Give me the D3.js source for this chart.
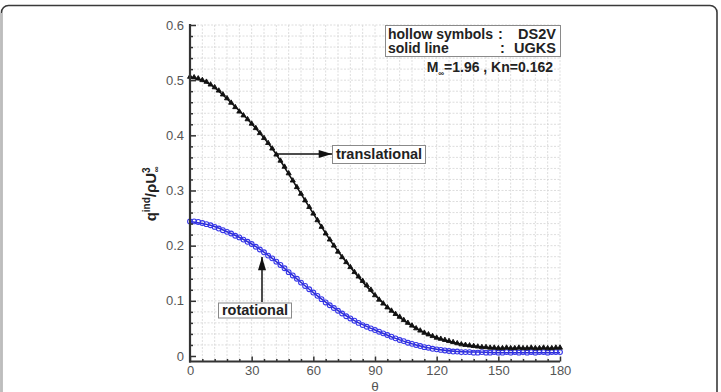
<!DOCTYPE html>
<html>
<head>
<meta charset="utf-8">
<script src="https://cdn.jsdelivr.net/npm/d3@7"></script>
<style>
  body { margin: 0; background: #fff; }
  svg text { font-family: "Liberation Sans", Arial, sans-serif; }
</style>
</head>
<body>
<svg id="chart" width="721" height="392"></svg>
<script>
// DS2V symbols, every 2 degrees
var dsTheta = d3.range(0, 181, 2);
var dsTrans = [0.506, 0.505, 0.503, 0.500, 0.497, 0.492, 0.487, 0.481, 0.474, 0.467,
  0.459, 0.451, 0.443, 0.436, 0.429, 0.421, 0.413, 0.404, 0.395, 0.386,
  0.376, 0.365, 0.354, 0.343, 0.331, 0.318, 0.306, 0.294, 0.282, 0.270,
  0.258, 0.246, 0.234, 0.222, 0.211, 0.200, 0.189, 0.179, 0.170, 0.161,
  0.152, 0.144, 0.136, 0.128, 0.120, 0.110, 0.102, 0.095, 0.088, 0.082,
  0.076, 0.071, 0.065, 0.060, 0.055, 0.050, 0.046, 0.042, 0.039, 0.036,
  0.033, 0.031, 0.029, 0.027, 0.025, 0.023, 0.021, 0.020, 0.019, 0.018,
  0.017, 0.016, 0.016, 0.015, 0.015, 0.014, 0.014, 0.015, 0.014, 0.014,
  0.015, 0.014, 0.014, 0.015, 0.014, 0.014, 0.015, 0.014, 0.014, 0.015, 0.015];
var dsRot = [0.244, 0.244, 0.243, 0.241, 0.239, 0.237, 0.234, 0.231, 0.228, 0.225,
  0.222, 0.218, 0.215, 0.211, 0.207, 0.203, 0.198, 0.193, 0.188, 0.182,
  0.177, 0.171, 0.165, 0.159, 0.152, 0.146, 0.140, 0.133, 0.127, 0.121,
  0.115, 0.109, 0.103, 0.097, 0.092, 0.087, 0.082, 0.077, 0.072, 0.068,
  0.064, 0.060, 0.056, 0.053, 0.050, 0.047, 0.044, 0.041, 0.038, 0.035,
  0.032, 0.029, 0.027, 0.024, 0.022, 0.020, 0.018, 0.016, 0.015, 0.013,
  0.012, 0.011, 0.010, 0.009, 0.008, 0.008, 0.007, 0.007, 0.007, 0.006,
  0.006, 0.007, 0.006, 0.006, 0.007, 0.006, 0.006, 0.007, 0.006, 0.007,
  0.006, 0.007, 0.006, 0.007, 0.006, 0.007, 0.007, 0.006, 0.007, 0.007, 0.007];

// UGKS solid lines, every 10 degrees
var ugTheta = d3.range(0, 181, 10);
var ugTrans = [0.506, 0.492, 0.459, 0.421, 0.376, 0.318, 0.258, 0.200, 0.152, 0.110,
  0.076, 0.050, 0.033, 0.023, 0.017, 0.014, 0.014, 0.014, 0.014];
var ugRot = [0.244, 0.237, 0.222, 0.203, 0.177, 0.146, 0.115, 0.087, 0.064, 0.047,
  0.032, 0.020, 0.012, 0.008, 0.007, 0.006, 0.006, 0.006, 0.006];

var xTicks = [0, 30, 60, 90, 120, 150, 180];
var yTicks = [0, 0.1, 0.2, 0.3, 0.4, 0.5, 0.6];

var svg = d3.select("#chart");

// outer frame (rounded, runs off the bottom)
svg.append("rect")
  .attr("x", 1.5).attr("y", 5.5).attr("width", 715.5).attr("height", 420)
  .attr("rx", 7)
  .attr("fill", "none").attr("stroke", "#3a3a3a").attr("stroke-width", 1.6);
svg.append("line")
  .attr("x1", 1.5).attr("x2", 1.5).attr("y1", 13).attr("y2", 392)
  .attr("stroke", "#bdbdbd").attr("stroke-width", 2);

var x = d3.scaleLinear().domain([0, 180]).range([190, 560]);
var y = d3.scaleLinear().domain([-0.01, 0.6]).range([361.5, 25]);

// grid
var grid = svg.append("g").attr("stroke", "#d4d4d4").attr("stroke-width", 0.8)
  .attr("stroke-dasharray", "2,1.5");
grid.selectAll(".vg").data(d3.range(6, 181, 6)).enter().append("line")
  .attr("x1", d => x(d)).attr("x2", d => x(d))
  .attr("y1", y(0.6)).attr("y2", y(-0.01));
grid.selectAll(".hg").data(d3.range(1, 31).map(i => i * 0.02)).enter().append("line")
  .attr("x1", x(0)).attr("x2", x(180))
  .attr("y1", d => y(d)).attr("y2", d => y(d));

// UGKS lines
var line = d3.line().x((d, i) => x(ugTheta[i])).y(d => y(d)).curve(d3.curveMonotoneX);
svg.append("path").datum(ugRot).attr("d", line)
  .attr("fill", "none").attr("stroke", "#2a2ad0").attr("stroke-width", 1.5);
svg.append("path").datum(ugTrans).attr("d", line)
  .attr("fill", "none").attr("stroke", "#111").attr("stroke-width", 1.6);

// DS2V symbols
svg.append("g").selectAll("circle").data(dsRot).enter().append("circle")
  .attr("cx", (d, i) => x(dsTheta[i])).attr("cy", d => y(d)).attr("r", 2.4)
  .attr("fill", "none").attr("stroke", "#3535e8").attr("stroke-width", 1.1);
var tri = d3.symbol().type(d3.symbolTriangle).size(11);
svg.append("g").selectAll("path").data(dsTrans).enter().append("path")
  .attr("d", tri)
  .attr("transform", (d, i) => "translate(" + x(dsTheta[i]) + "," + y(d) + ")")
  .attr("fill", "#111").attr("stroke", "#111").attr("stroke-width", 0.9);

// axes
var xAxis = d3.axisBottom(x).tickValues(xTicks).tickSize(-5).tickPadding(4);
var gx = svg.append("g").attr("transform", "translate(0," + y(-0.01) + ")").call(xAxis);
var xMinor = d3.axisBottom(x).tickValues(d3.range(6, 180, 6).filter(d => d % 30 != 0))
  .tickSize(-2.5).tickFormat("");
var gxm = svg.append("g").attr("transform", "translate(0," + y(-0.01) + ")").call(xMinor);

var yAxis = d3.axisLeft(y).tickValues(yTicks).tickSize(-6).tickPadding(6)
  .tickFormat(d => d === 0 ? "0" : d3.format(".1f")(d));
var gy = svg.append("g").attr("transform", "translate(" + x(0) + ",0)").call(yAxis);
var yMinor = d3.axisLeft(y).tickValues(d3.range(1, 30).map(i => i * 0.02).filter((d, i) => (i + 1) % 5 != 0))
  .tickSize(-3).tickFormat("");
var gym = svg.append("g").attr("transform", "translate(" + x(0) + ",0)").call(yMinor);

[gx, gxm, gy, gym].forEach(function(g) {
  g.select(".domain").remove();
  g.selectAll(".tick line").attr("stroke", "#333").attr("stroke-width", 1.5);
  g.selectAll(".tick text").attr("fill", "#555").style("font-size", "13px");
});

svg.append("line").attr("x1", x(0)).attr("x2", x(0)).attr("y1", y(0.6) - 1).attr("y2", y(-0.01) + 1)
  .attr("stroke", "#333").attr("stroke-width", 2.2);
svg.append("line").attr("x1", x(0) - 1).attr("x2", x(180)).attr("y1", y(-0.01)).attr("y2", y(-0.01))
  .attr("stroke", "#333").attr("stroke-width", 2.2);

// axis titles
svg.append("text").attr("x", x(90)).attr("y", 390.5).attr("text-anchor", "middle")
  .attr("fill", "#555").style("font-size", "13.5px").text("θ");

var yt = svg.append("text").attr("transform", "translate(156,194) rotate(-90)")
  .attr("text-anchor", "middle").attr("fill", "#222")
  .style("font-size", "15px").style("font-weight", "bold");
yt.append("tspan").text("q");
yt.append("tspan").attr("dy", -6).style("font-size", "10px").text("ind");
yt.append("tspan").attr("dy", 6).text("/ρU");
yt.append("tspan").attr("dy", -6).style("font-size", "10px").text("3");
yt.append("tspan").attr("dx", -5).attr("dy", 9).style("font-size", "8px").text("∞");

// legend box
svg.append("rect").attr("x", 385.5).attr("y", 25.5).attr("width", 175).attr("height", 31)
  .attr("fill", "#fff").attr("stroke", "#8a8a8a").attr("stroke-width", 1);
var legTxt = [["hollow symbols", "DS2V", 38.5, 498], ["solid line", "UGKS", 53, 500]];
legTxt.forEach(function(r) {
  svg.append("text").attr("x", 388).attr("y", r[2]).attr("fill", "#222")
    .style("font-size", "14px").style("font-weight", "bold").text(r[0]);
  svg.append("text").attr("x", r[3]).attr("y", r[2]).attr("fill", "#222")
    .style("font-size", "14.5px").style("font-weight", "bold").text(":");
  svg.append("text").attr("x", 556).attr("y", r[2]).attr("text-anchor", "end").attr("fill", "#222")
    .style("font-size", "14.5px").style("font-weight", "bold").text(r[1]);
});
var mt = svg.append("text").attr("x", 553).attr("y", 72).attr("text-anchor", "end")
  .attr("fill", "#222").style("font-size", "14px").style("font-weight", "bold");
mt.append("tspan").text("M");
mt.append("tspan").attr("dy", 4).style("font-size", "8px").text("∞");
mt.append("tspan").attr("dy", -4).text("=1.96 , Kn=0.162");

// arrow annotations
svg.append("defs").append("marker").attr("id", "ah")
  .attr("viewBox", "0 0 10 6").attr("refX", 10).attr("refY", 3)
  .attr("markerWidth", 14).attr("markerHeight", 8).attr("markerUnits", "userSpaceOnUse")
  .attr("orient", "auto")
  .append("path").attr("d", "M0,0L10,3L0,6Z").attr("fill", "#111");

var notes = [
  { text: "translational", bx: 332, by: 145, bw: 93, bh: 18, ax1: 277, ay1: 154, ax2: 332, ay2: 154 },
  { text: "rotational", bx: 218, by: 302.5, bw: 73, bh: 15, ax1: 262, ay1: 302, ax2: 262, ay2: 257 }
];
notes.forEach(function(n) {
  svg.append("line").attr("x1", n.ax1).attr("y1", n.ay1).attr("x2", n.ax2).attr("y2", n.ay2)
    .attr("stroke", "#111").attr("stroke-width", 1.5).attr("marker-end", "url(#ah)");
  svg.append("rect").attr("x", n.bx + 0.5).attr("y", n.by + 0.5).attr("width", n.bw).attr("height", n.bh)
    .attr("fill", "#fff").attr("stroke", "#8a8a8a").attr("stroke-width", 1);
  svg.append("text").attr("x", n.bx + n.bw / 2 + 0.5).attr("y", n.by + n.bh / 2 + 5)
    .attr("text-anchor", "middle").attr("fill", "#222")
    .style("font-size", "14.5px").style("font-weight", "bold").text(n.text);
});
</script>
</body>
</html>
